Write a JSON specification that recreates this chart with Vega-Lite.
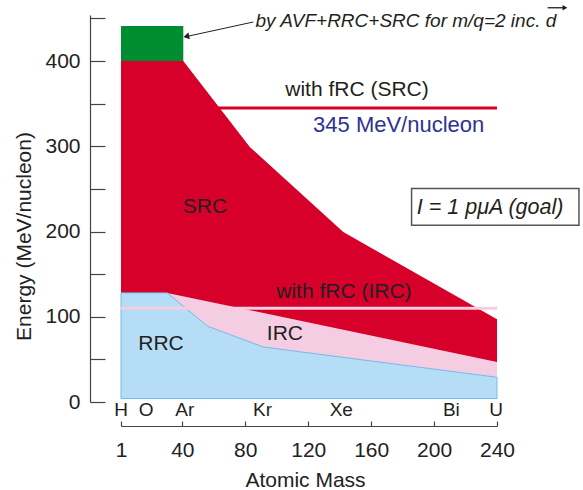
{
  "$schema": "https://vega.github.io/schema/vega-lite/v6.json",
  "width": 376,
  "height": 387,
  "autosize": "none",
  "padding": {"left": 121, "top": 15, "right": 86, "bottom": 88},
  "background": "white",
  "config": {
    "view": {"stroke": null},
    "font": "Liberation Sans",
    "axis": {"grid": false, "domainColor": "#444", "tickColor": "#444", "labelColor": "#222", "titleColor": "#222", "labelFont": "Liberation Sans", "titleFont": "Liberation Sans", "labelFontSize": 21, "titleFontSize": 21, "titleFontWeight": "normal", "domainWidth": 1.2, "tickWidth": 1.2}
  },
  "datasets": {
    "red": [{"m": 1, "e": 400}, {"m": 40.6, "e": 400}, {"m": 83, "e": 299}, {"m": 142.3, "e": 199.4}, {"m": 240, "e": 97}],
    "pink": [{"m": 1, "e": 128}, {"m": 30.4, "e": 128}, {"m": 240, "e": 47}],
    "blue": [{"m": 1, "e": 128}, {"m": 30.4, "e": 128}, {"m": 56.1, "e": 88.8}, {"m": 91.5, "e": 64.5}, {"m": 240, "e": 29}],
    "green": [{"m1": 1, "m2": 40.6, "e1": 400, "e2": 441}],
    "srcline": [{"m1": 1, "m2": 240, "e": 345}],
    "ircline": [{"m1": 1, "m2": 240, "e": 110}],
    "labels": [
      {"t": "SRC", "m": 54.4, "e": 228.4},
      {"t": "RRC", "m": 26.4, "e": 67.7},
      {"t": "IRC", "m": 105.2, "e": 79.4},
      {"t": "with fRC (IRC)", "m": 142.7, "e": 128.7},
      {"t": "with fRC (SRC)", "m": 151, "e": 365.7}
    ],
    "mev": [{"t": "345 MeV/nucleon", "m": 177.5, "e": 324.6}],
    "box": [{"m1": 185.7, "m2": 292.1, "e1": 207.3, "e2": 250.4}],
    "boxtext": [{"t": "I = 1 pμA (goal)", "m": 235.6, "e": 228}],
    "note": [{"t": "by AVF+RRC+SRC for m/q=2 inc. d", "m": 86.5, "e": 447.5}],
    "vec": [{"m1": 272.2, "m2": 283.5, "e": 462.5}],
    "vechead": [{"m": 283.2, "e": 462.5}],
    "arrow": [{"m1": 85.1, "e1": 445.8, "m2": 42, "e2": 428.5}],
    "head": [{"m": 42.5, "e": 428.8}],
    "elements": [
      {"t": "H", "m": 1, "e": -9},
      {"t": "O", "m": 17, "e": -9},
      {"t": "Ar", "m": 41.5, "e": -9},
      {"t": "Kr", "m": 91, "e": -9},
      {"t": "Xe", "m": 141, "e": -9},
      {"t": "Bi", "m": 211, "e": -9},
      {"t": "U", "m": 239.5, "e": -9}
    ]
  },
  "layer": [
    {
      "data": {"name": "red"},
      "mark": {"type": "area", "color": "#d7002a", "clip": false},
      "encoding": {
        "x": {"field": "m", "type": "quantitative", "scale": {"domain": [1, 240], "nice": false, "zero": false},
          "axis": {"values": [1, 40, 80, 120, 160, 200, 240], "offset": 24, "tickSize": -5, "labelPadding": 18, "title": "Atomic Mass", "titlePadding": 9, "titleX": 184, "labelFlush": false}},
        "y": {"field": "e", "type": "quantitative", "scale": {"domain": [0, 454], "nice": false, "zero": false},
          "axis": {"values": [0, 50, 100, 150, 200, 250, 300, 350, 400, 450], "labelExpr": "datum.value % 100 == 0 ? datum.label : ''", "offset": 31, "tickSize": -15, "labelPadding": 25, "title": "Energy (MeV/nucleon)", "titlePadding": 10, "titleY": 221}},
        "y2": {"datum": 4}
      }
    },
    {
      "data": {"name": "pink"},
      "mark": {"type": "area", "color": "#f5cde2"},
      "encoding": {"x": {"field": "m", "type": "quantitative"}, "y": {"field": "e", "type": "quantitative"}, "y2": {"datum": 4}}
    },
    {
      "data": {"name": "blue"},
      "mark": {"type": "area", "fill": "#b5ddf5", "stroke": "#74bbe9", "strokeWidth": 1},
      "encoding": {"x": {"field": "m", "type": "quantitative"}, "y": {"field": "e", "type": "quantitative"}, "y2": {"datum": 4}}
    },
    {
      "data": {"name": "green"},
      "mark": {"type": "rect", "color": "#008c30"},
      "encoding": {"x": {"field": "m1", "type": "quantitative"}, "x2": {"field": "m2"}, "y": {"field": "e1", "type": "quantitative"}, "y2": {"field": "e2"}}
    },
    {
      "data": {"name": "srcline"},
      "mark": {"type": "rule", "color": "#d7002a", "strokeWidth": 3},
      "encoding": {"x": {"field": "m1", "type": "quantitative"}, "x2": {"field": "m2"}, "y": {"field": "e", "type": "quantitative"}}
    },
    {
      "data": {"name": "ircline"},
      "mark": {"type": "rule", "color": "#f5cde2", "strokeWidth": 3},
      "encoding": {"x": {"field": "m1", "type": "quantitative"}, "x2": {"field": "m2"}, "y": {"field": "e", "type": "quantitative"}}
    },
    {
      "data": {"name": "labels"},
      "mark": {"type": "text", "fontSize": 21, "color": "#231f20", "align": "center", "baseline": "middle"},
      "encoding": {"x": {"field": "m", "type": "quantitative"}, "y": {"field": "e", "type": "quantitative"}, "text": {"field": "t"}}
    },
    {
      "data": {"name": "mev"},
      "mark": {"type": "text", "fontSize": 22, "color": "#2e3192", "align": "center", "baseline": "middle"},
      "encoding": {"x": {"field": "m", "type": "quantitative"}, "y": {"field": "e", "type": "quantitative"}, "text": {"field": "t"}}
    },
    {
      "data": {"name": "box"},
      "mark": {"type": "rect", "fill": "white", "stroke": "#555", "strokeWidth": 1.5, "clip": false},
      "encoding": {"x": {"field": "m1", "type": "quantitative"}, "x2": {"field": "m2"}, "y": {"field": "e1", "type": "quantitative"}, "y2": {"field": "e2"}}
    },
    {
      "data": {"name": "boxtext"},
      "mark": {"type": "text", "fontSize": 21.5, "fontStyle": "italic", "color": "#231f20", "align": "center", "baseline": "middle"},
      "encoding": {"x": {"field": "m", "type": "quantitative"}, "y": {"field": "e", "type": "quantitative"}, "text": {"field": "t"}}
    },
    {
      "data": {"name": "note"},
      "mark": {"type": "text", "fontSize": 19, "fontStyle": "italic", "color": "#231f20", "align": "left", "baseline": "middle"},
      "encoding": {"x": {"field": "m", "type": "quantitative"}, "y": {"field": "e", "type": "quantitative"}, "text": {"field": "t"}}
    },
    {
      "data": {"name": "vec"},
      "mark": {"type": "rule", "color": "#231f20", "strokeWidth": 1.3, "clip": false},
      "encoding": {"x": {"field": "m1", "type": "quantitative"}, "x2": {"field": "m2"}, "y": {"field": "e", "type": "quantitative"}}
    },
    {
      "data": {"name": "vechead"},
      "mark": {"type": "point", "shape": "triangle-right", "filled": true, "color": "#231f20", "size": 30, "opacity": 1, "clip": false},
      "encoding": {"x": {"field": "m", "type": "quantitative"}, "y": {"field": "e", "type": "quantitative"}}
    },
    {
      "data": {"name": "arrow"},
      "mark": {"type": "rule", "color": "#231f20", "strokeWidth": 1},
      "encoding": {"x": {"field": "m1", "type": "quantitative"}, "x2": {"field": "m2"}, "y": {"field": "e1", "type": "quantitative"}, "y2": {"field": "e2"}}
    },
    {
      "data": {"name": "head"},
      "mark": {"type": "point", "shape": "triangle-left", "filled": true, "color": "#231f20", "size": 45, "angle": 348, "opacity": 1},
      "encoding": {"x": {"field": "m", "type": "quantitative"}, "y": {"field": "e", "type": "quantitative"}}
    },
    {
      "data": {"name": "elements"},
      "mark": {"type": "text", "fontSize": 19, "color": "#231f20", "align": "center", "baseline": "middle"},
      "encoding": {"x": {"field": "m", "type": "quantitative"}, "y": {"field": "e", "type": "quantitative"}, "text": {"field": "t"}}
    }
  ]
}
